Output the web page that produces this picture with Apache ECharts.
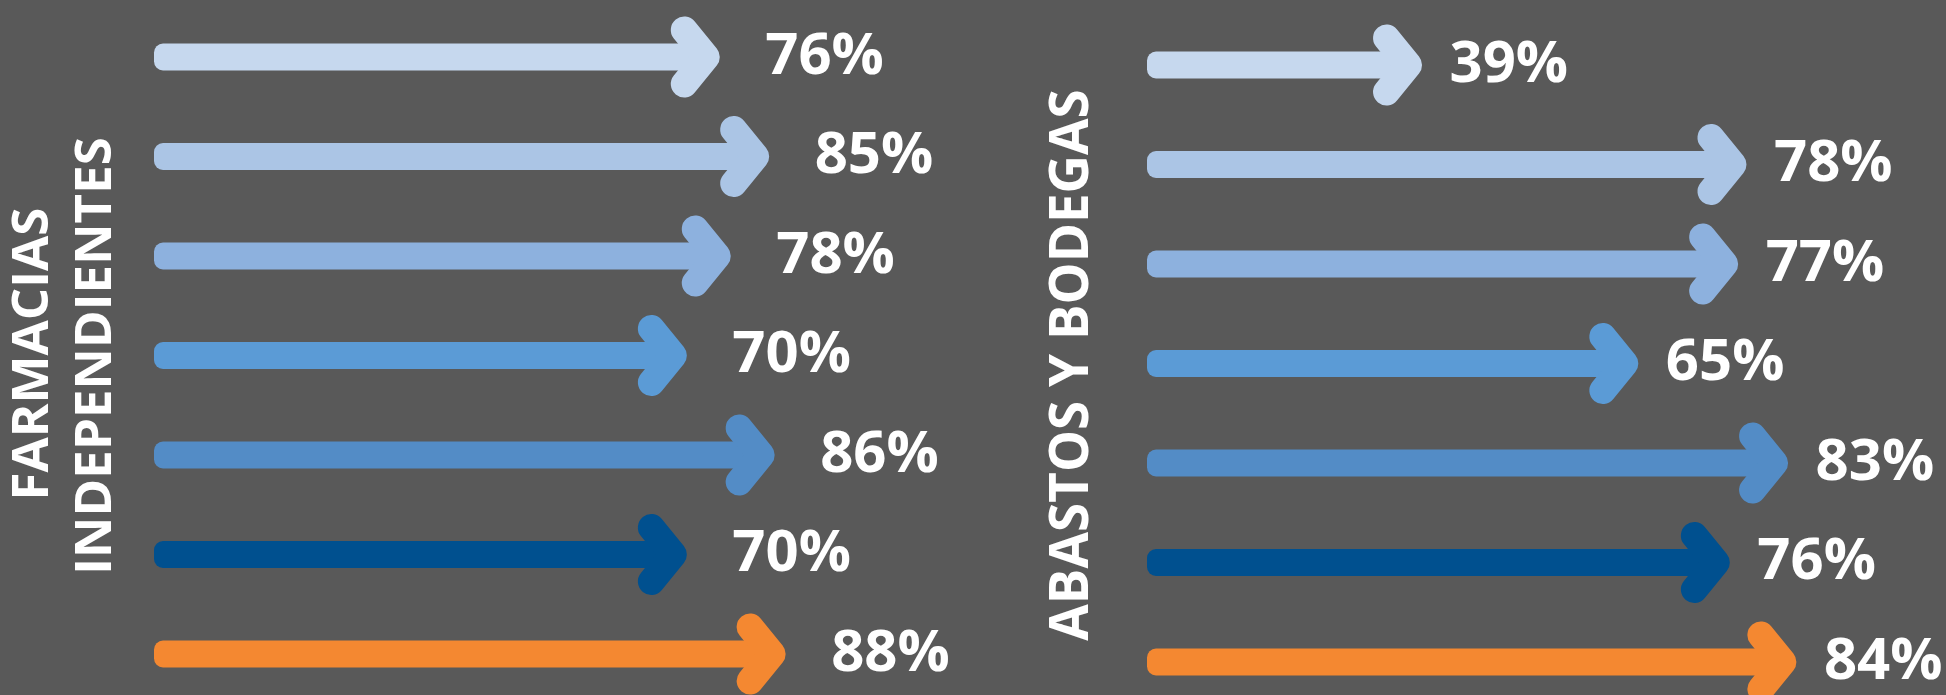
<!DOCTYPE html>
<html>
<head>
<meta charset="utf-8">
<script src="https://cdn.jsdelivr.net/npm/echarts@6/dist/echarts.min.js"></script>
<style>
  html, body { margin: 0; padding: 0; background: #595959; }
  #chart { width: 1946px; height: 695px; }
</style>
</head>
<body>
<div id="chart"></div>
<script>
// ---- data ----
const categories = ['1', '2', '3', '4', '5', '6', '7'];
const farmaciasValues = [76, 85, 78, 70, 86, 70, 88];
const abastosValues = [39, 78, 77, 65, 83, 76, 84];
const leftTitleLines = ['FARMACIAS', 'INDEPENDIENTES'];
const rightTitle = 'ABASTOS Y BODEGAS';

// ---- style ----
const arrowColors = ['#C6D8EE', '#ABC5E5', '#8DB1DE', '#5B9BD6', '#538CC6', '#00508F', '#F48831'];
const BG = '#595959';

function makeRenderItem(gap) {
  return function (params, api) {
    const v = api.value(0);
    const tip = api.coord([v, params.dataIndex]);
    const x0 = params.coordSys.x;
    const tx = tip[0], y = tip[1];
    const color = arrowColors[params.dataIndex % arrowColors.length];
    const w = 27;
    return {
      type: 'group',
      children: [
        {
          type: 'rect',
          shape: { x: x0, y: y - w / 2, width: tx - 14 - x0, height: w, r: [9, 0, 0, 9] },
          style: { fill: color }
        },
        {
          type: 'polyline',
          shape: { points: [[tx - 13 - 22, y - 27], [tx - 13, y], [tx - 13 - 22, y + 27]] },
          style: { stroke: color, lineWidth: 27, lineCap: 'round', lineJoin: 'round', fill: null }
        },
        {
          type: 'text',
          style: {
            text: v + '%',
            x: tx + gap,
            y: y,
            fill: '#FFFFFF',
            fontFamily: '"Open Sans", sans-serif',
            fontWeight: 'bold',
            fontSize: 58,
            align: 'left',
            verticalAlign: 'middle'
          }
        }
      ]
    };
  };
}

const chart = echarts.init(document.getElementById('chart'), null, { renderer: 'canvas' });

const leftTitleFont = { fontFamily: '"Open Sans", sans-serif', fontWeight: 'bold', fontSize: 51, fill: '#FFFFFF' };
const rightTitleFont = { fontFamily: '"Open Sans", sans-serif', fontWeight: 'bold', fontSize: 53, fill: '#FFFFFF' };

chart.setOption({
  backgroundColor: BG,
  animation: false,
  grid: [
    { left: 154, right: 1095, top: 57, bottom: 41 },
    { left: 1147, right: 17, top: 65, bottom: 33 }
  ],
  xAxis: [
    { type: 'value', gridIndex: 0, min: -27, max: 100, show: false },
    { type: 'value', gridIndex: 1, min: 6, max: 100, show: false }
  ],
  yAxis: [
    { type: 'category', gridIndex: 0, data: categories, inverse: true, boundaryGap: false, show: false },
    { type: 'category', gridIndex: 1, data: categories, inverse: true, boundaryGap: false, show: false }
  ],
  graphic: [
    { type: 'text', x: 33, y: 354, rotation: Math.PI / 2,
      style: Object.assign({ text: leftTitleLines[0], align: 'center', verticalAlign: 'middle' }, leftTitleFont) },
    { type: 'text', x: 96, y: 356, rotation: Math.PI / 2,
      style: Object.assign({ text: leftTitleLines[1], align: 'center', verticalAlign: 'middle' }, leftTitleFont) },
    { type: 'text', x: 1073, y: 365, rotation: Math.PI / 2,
      style: Object.assign({ text: rightTitle, align: 'center', verticalAlign: 'middle' }, rightTitleFont) }
  ],
  series: [
    {
      type: 'custom', xAxisIndex: 0, yAxisIndex: 0, clip: false,
      renderItem: makeRenderItem(46),
      data: farmaciasValues.map((v, i) => [v, categories[i]]),
      encode: { x: 0, y: 1 }
    },
    {
      type: 'custom', xAxisIndex: 1, yAxisIndex: 1, clip: false,
      renderItem: makeRenderItem(28),
      data: abastosValues.map((v, i) => [v, categories[i]]),
      encode: { x: 0, y: 1 }
    }
  ]
});
</script>
</body>
</html>
